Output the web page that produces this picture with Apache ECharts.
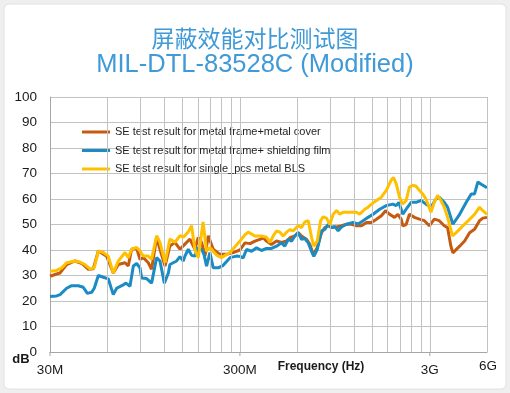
<!DOCTYPE html>
<html><head><meta charset="utf-8">
<script src="https://cdn.jsdelivr.net/npm/echarts@6/dist/echarts.min.js"></script>
<style>html,body{margin:0;padding:0;background:#efefef}#c{width:510px;height:393px}</style>
</head><body><div id="c"></div>
<script>
// ---- data (frequency in MHz, shielding effectiveness in dB) ----
const seriesNames = ['SE test result for metal frame+metal cover','SE test result for metal frame+ shielding film','SE test result for single_pcs metal BLS'];
const coverF = [30,32.5,33.9,36.7,40.6,43.1,44.9,47.8,50.7,53.9,59.6,64.6,68.7,74.5,77.5,80.7,85.8,89.3,93,98.8,102.8,109.3,113.8,121,128.4,136.4,145,154,163.7,173.8,181,188.5,196.3,204.4,217,235,255,276,300,319,339,360,382,398,414,440,468,497,528,550,584,608,633,673,701,730,766,807,840,875,911,968,1028,1092,1160,1232,1309,1393,1478,1570,1667,1755,1841,1955,2036,2119,2162,2251,2343,2489,2643,2807,2982,3167,3364,3573,3720,3873,3967,4306,4574,4858,5160,5481,5706,6000];
const coverV = [29.7,30.6,31,34.3,35.7,35,34.3,32.4,32.6,39.6,37.6,31,34.3,35,33.7,40.3,40.7,36.3,37,35,32.4,44.9,40.3,33.7,41.6,43,40.3,42.3,44.3,40.3,44.9,43,37.6,45.6,40.3,38.3,38.3,39,40,42.8,42.5,43.5,44.2,44.8,43.5,42.2,43.5,43,43.5,44.8,45.5,46.8,45.5,44.2,42.2,38.2,40.9,46.8,48.8,49.5,48.8,49,49.5,50.1,50.1,49.5,49.5,50.8,50.8,52.1,53.4,55.4,54,52.8,54,52.1,49.5,50,54,52.8,52.1,51.5,49.5,52.1,51.5,49.5,48.8,41.5,38.9,41.5,43.5,46.8,48.1,51.5,52.5,52.8];
const filmF = [30,32.5,33.9,36.7,39,42.3,44.9,47.2,49.7,51.3,53.9,57.3,60.8,64.6,67.3,71.6,75.4,79.1,82.4,85.8,89.3,91.1,96.8,102.8,109.3,113.8,120,126,128.4,133.7,139.3,145,151,154,160.4,167,173.8,181,188.5,194,200.3,208.5,217,230.8,245,266,288,300,312,325,346,367,390,414,440,468,497,517,539,561,584,608,633,659,687,715,735,766,807,840,875,911,948,987,1028,1092,1184,1258,1336,1419,1508,1634,1769,1916,1995,2060,2162,2251,2391,2539,2697,2864,3042,3231,3364,3573,3720,3967,4306,4666,4956,5160,5372,5592,6000];
const filmV = [21.8,22,22.5,25,26,26,25.4,23,23.4,25,30,29.3,28.7,22.5,25,26,27,25.8,33.7,34.7,33,29,28.8,27,37,35.7,27,31,34.3,35,35.7,37.4,35.7,37.6,40.3,37.9,37.6,41,40.3,38.3,33.7,39,33,33,34,37,37.6,37.5,36.9,40.2,39.5,40.9,39.8,40.6,40.6,41.5,42.8,41.5,44.2,43.5,45.5,46.8,44.2,44.5,42.8,39.5,37.5,40.2,47.5,48.1,50.1,48.8,49.3,47.5,49,50.1,50.8,50.2,51.5,52.8,54,56,57.4,58,57.4,58.7,54,56,58.7,58.7,59.4,58,56.8,60,60.7,58.7,56.8,50.1,54,58.7,62,62,66.7,65.8,64.4];
const blsF = [30,32.5,34.6,36.7,40.6,43.1,45.8,48.7,51.3,53.9,57.3,60.8,64.6,68.7,74.5,77.5,80.7,85.8,89.3,93,98.8,102.8,109.3,113.8,121,128.4,136.4,145,151,160,167,174,181,192,200,208.5,226,240,266,300,319,332,360,390,414,432,449,468,487,507,528,550,572,608,633,659,687,715,735,766,798,823,857,893,929,968,1007,1049,1137,1232,1283,1363,1419,1478,1570,1667,1769,1878,1932,1995,2077,2162,2251,2343,2439,2539,2643,2751,2864,3042,3167,3297,3432,3573,3720,3951,4222,4483,4858,5160,5481,5706,6000];
const blsV = [31.7,32,33,35,35.7,35.3,34.3,32.6,33,39.6,39,37.6,31,35.7,39,37,40.3,41,39.6,37.6,37.6,36.3,45.6,43,35,44.3,43,45.6,45,47,49.5,40,37,51,39.5,41,38,37,39,43.5,46,47,45.5,45.5,45,43,45.5,47.5,47,45.5,47,48,47.5,49.5,48.8,51,51.5,45,41.5,43.5,51.5,53,52.5,50,54,55.5,54,54.8,54.8,54.8,54,56,56.8,58,59.4,60.7,63.4,67.4,68.4,66,60.7,58,59.4,64.7,65.4,65,63.4,62,60,54.8,58.7,61.4,59.4,56.8,52.8,45.5,47.5,49.5,52,54,56.8,55.4,54];
const tickFreqs = [30,300,3000,6000];
const tickLabels = ['30M','300M','3G','6G'];
const gridFreqs = [60,90,120,150,180,210,240,270,300,600,900,1200,1500,1800,2100,2400,2700,3000,6000];
const colors = ['#c55a11','#1a8bc3','#ffc000'];

function pairs(f, v){ return f.map((x,i)=>[x, v[i]]); }

const chart = echarts.init(document.getElementById('c'), null, {renderer:'canvas'});
const gridColor = '#c2c2c2';
const lineSeries = [[coverF,coverV],[filmF,filmV],[blsF,blsV]].map((d,i)=>({
  name: seriesNames[i], type:'line', data: pairs(d[0], d[1]), showSymbol:false, symbol:'none',
  lineStyle:{width:3, color:colors[i]}, itemStyle:{color:colors[i]}, z: 3+i
}));
chart.setOption({
  backgroundColor:'#efefef',
  animation:false,
  color: colors,
  grid:{left:50, right:23, top:97, bottom:41},
  xAxis:{type:'log', logBase:10, min:30, max:6000,
    axisLine:{show:true, lineStyle:{color:'#a6a6a6'}}, axisTick:{show:false},
    axisLabel:{show:false}, splitLine:{show:false}},
  yAxis:{type:'value', min:0, max:100, interval:10,
    axisLine:{show:true, lineStyle:{color:'#a6a6a6'}}, axisTick:{show:false},
    axisLabel:{fontSize:13.5, color:'#1a1a1a', margin:13, fontFamily:'Liberation Sans'},
    splitLine:{lineStyle:{color:gridColor, width:1}}},
  legend:{orient:'vertical', left:77, top:120, itemWidth:28, itemHeight:3, itemGap:4.5, icon:'rect',
    textStyle:{fontSize:11, color:'#1e1e1e', fontFamily:'Liberation Sans', lineHeight:14},
    data: seriesNames},
  series:[{type:'line', data:[], silent:true, z:1,
    markLine:{silent:true, symbol:'none', label:{show:false}, animation:false,
      lineStyle:{color:gridColor, type:'solid', width:1},
      data: gridFreqs.map(f=>({xAxis:f}))}}].concat(lineSeries)
});

const yBase = chart.convertToPixel({yAxisIndex:0}, 0);
const els = [
  {type:'rect', z:-10, shape:{x:4, y:4, width:502, height:385, r:5}, style:{fill:'#ffffff', stroke:'#e2e2e2', lineWidth:1}},
  {type:'text', x:255, y:38, style:{text:'屏蔽效能对比测试图', fontSize:23, fontFamily:'"Noto Sans CJK SC"', fill:'#3f9ad7', align:'center', verticalAlign:'middle'}},
  {type:'text', x:255, y:65, style:{text:'MIL-DTL-83528C (Modified)', fontSize:25.5, fontFamily:'"Liberation Sans"', fill:'#3f9ad7', align:'center', verticalAlign:'middle'}},
  {type:'text', x:321, y:367, style:{text:'Frequency (Hz)', fontSize:12, fontWeight:'bold', fontFamily:'"Liberation Sans"', fill:'#1a1a1a', align:'center', verticalAlign:'middle'}},
  {type:'text', x:21, y:359, style:{text:'dB', fontSize:13, fontWeight:'bold', fontFamily:'"Liberation Sans"', fill:'#1a1a1a', align:'center', verticalAlign:'middle'}}
];
tickFreqs.forEach((f,i)=>{
  const px = chart.convertToPixel({xAxisIndex:0}, f);
  const last = i === tickFreqs.length-1;
  els.push({type:'text', x: px + (last?1:0), y: yBase + (last?14:18), style:{text:tickLabels[i], fontSize:13.5, fontFamily:'"Liberation Sans"', fill:'#1a1a1a', align:'center', verticalAlign:'middle'}});
  if(!last) els.push({type:'line', shape:{x1:px, y1:yBase, x2:px, y2:yBase+4}, style:{stroke:'#a6a6a6', lineWidth:1}});
});
chart.setOption({graphic:{elements:els}});
</script></body></html>
